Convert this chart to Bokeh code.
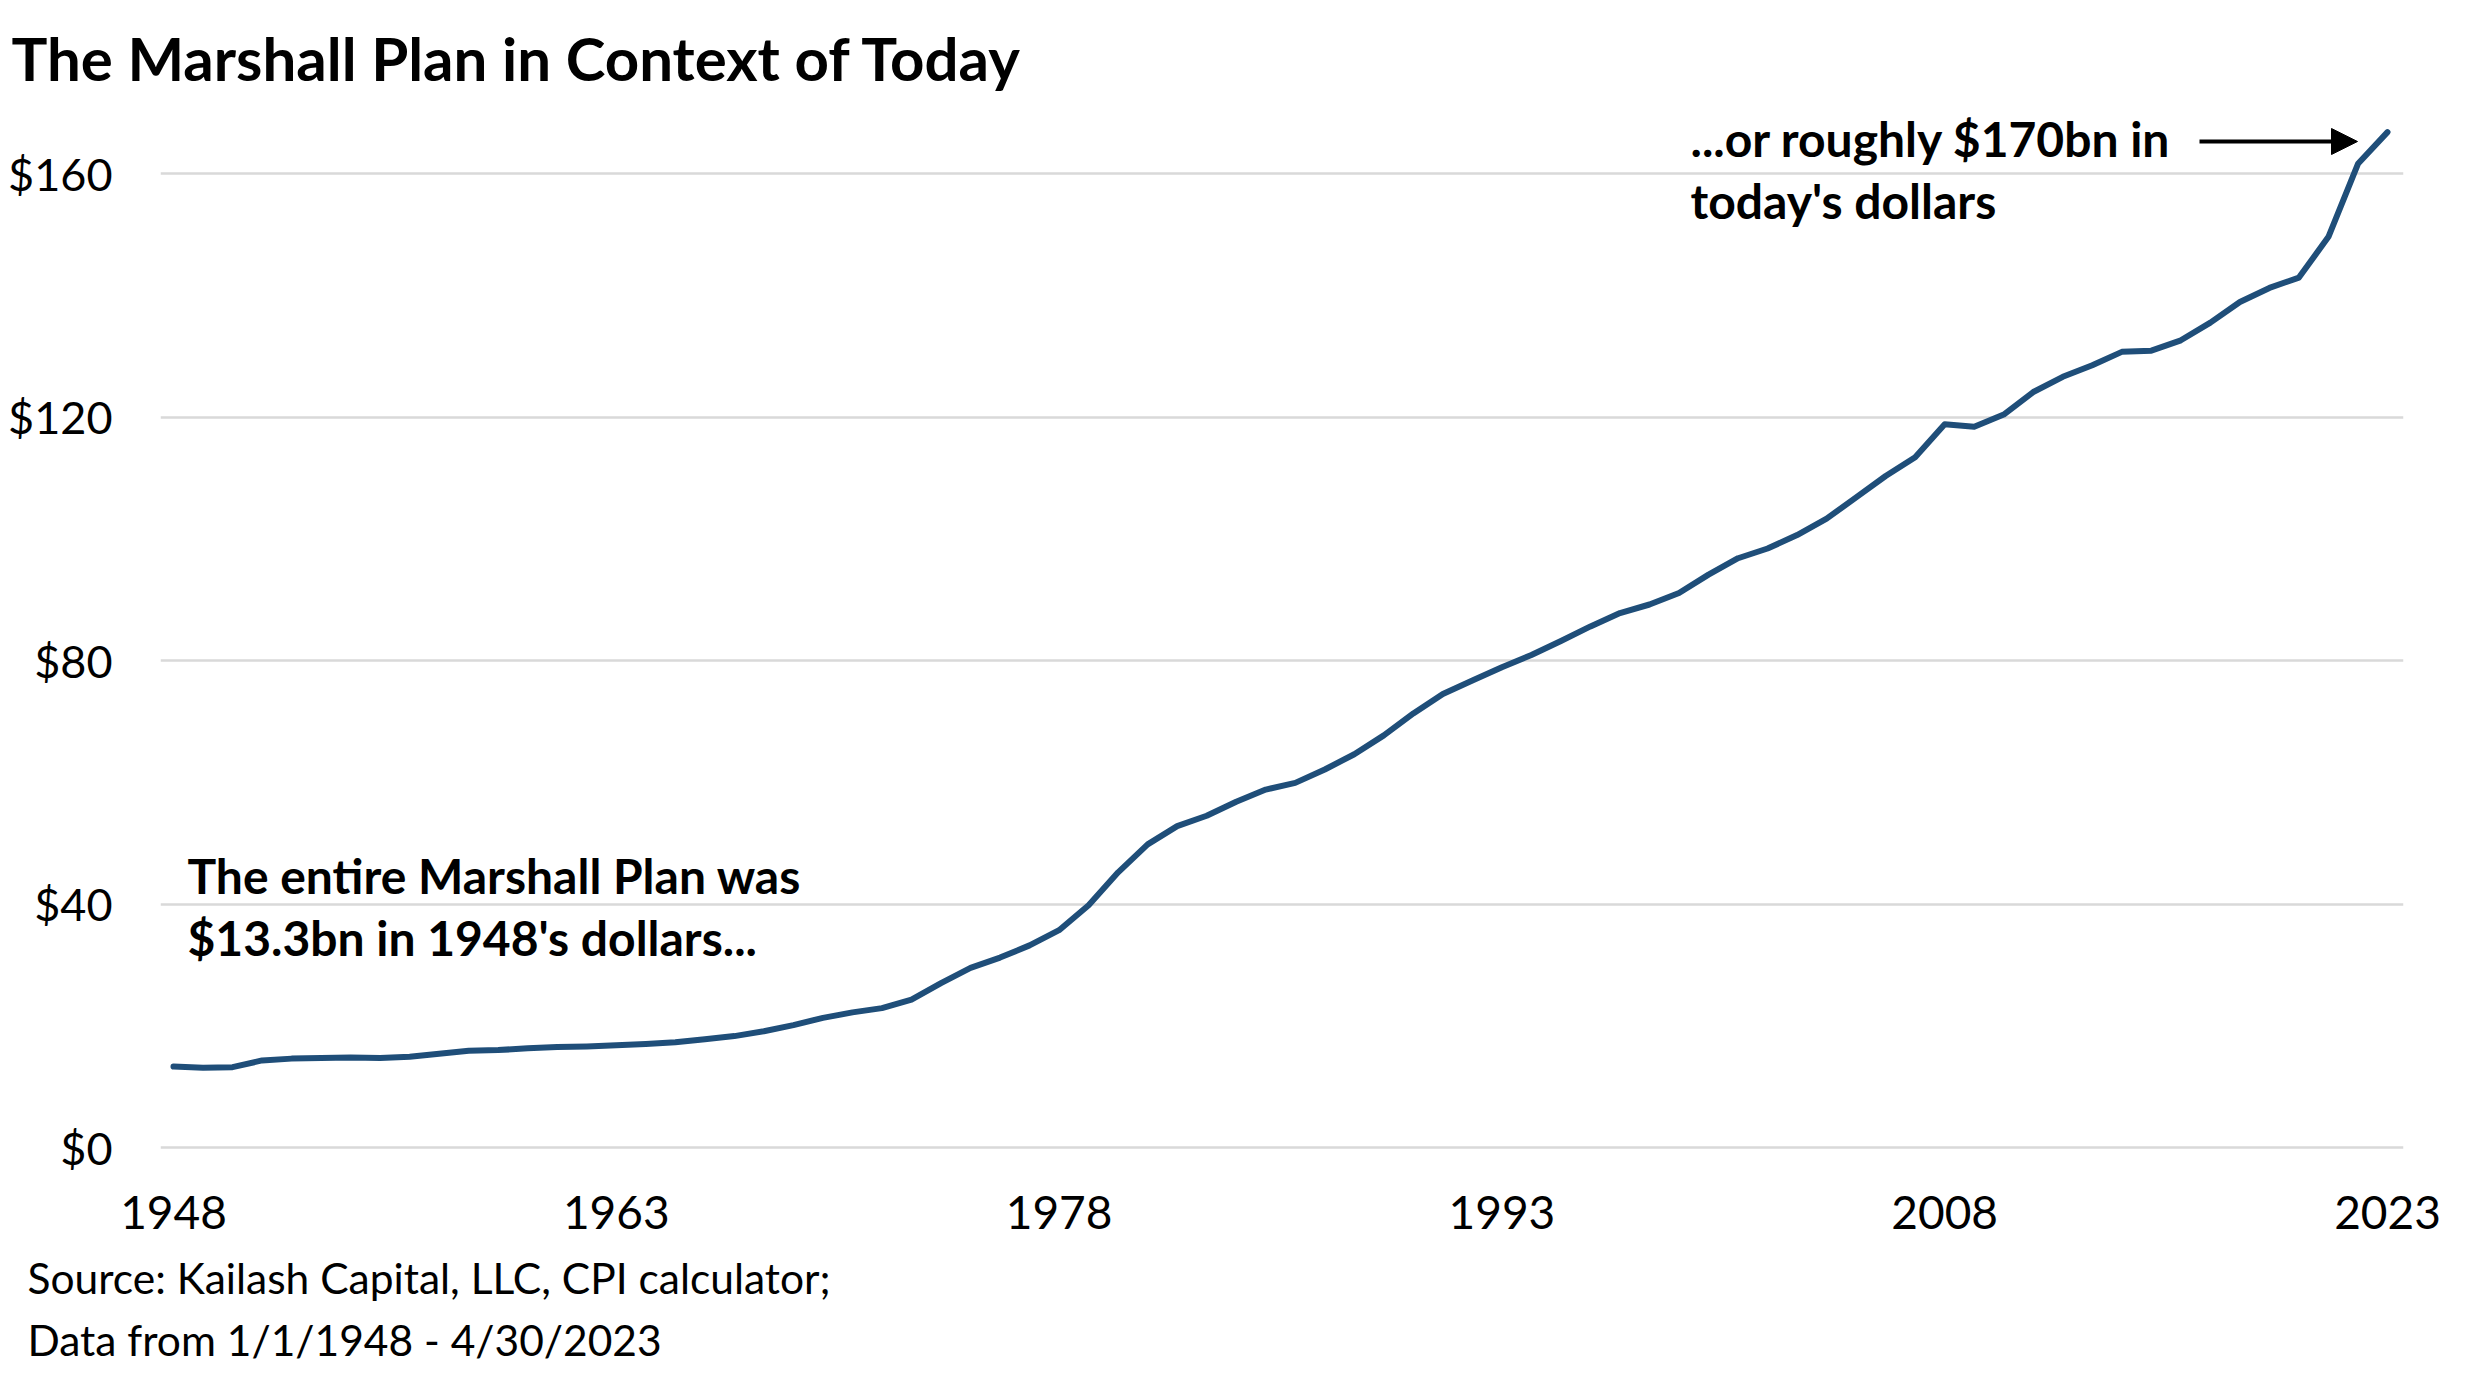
from bokeh.plotting import figure
from bokeh.models import (Range1d, FixedTicker, PrintfTickFormatter, Label, Arrow,
                          NormalHead, ColumnDataSource, Title)
from bokeh.embed import file_html
from bokeh.resources import INLINE

# ---------------- data ----------------
years = list(range(1948, 2024))
values = [13.3, 13.1, 13.2, 14.3, 14.6, 14.7, 14.8, 14.7, 14.9, 15.4,
          15.9, 16.0, 16.3, 16.5, 16.6, 16.8, 17.0, 17.3, 17.8, 18.3,
          19.1, 20.1, 21.3, 22.2, 22.9, 24.3, 27.0, 29.5, 31.2, 33.2,
          35.7, 39.8, 45.2, 49.8, 52.8, 54.5, 56.8, 58.8, 59.9, 62.1,
          64.6, 67.7, 71.3, 74.5, 76.7, 78.9, 80.9, 83.2, 85.6, 87.8,
          89.2, 91.1, 94.1, 96.8, 98.4, 100.6, 103.3, 106.8, 110.3, 113.4,
          118.8, 118.4, 120.4, 124.1, 126.6, 128.5, 130.7, 130.9, 132.6, 135.5,
          138.9, 141.2, 142.9, 149.6, 161.6, 166.8]
x_ticks = [1948, 1963, 1978, 1993, 2008, 2023]
y_ticks = [0, 40, 80, 120, 160]

title_text = "The Marshall Plan in Context of Today"
note_left = ["The entire Marshall Plan was", "$13.3bn in 1948's dollars..."]
note_right = ["...or roughly $170bn in", "today's dollars"]
source_lines = ["Source: Kailash Capital, LLC, CPI calculator;",
                "Data from 1/1/1948 - 4/30/2023"]

# ---------------- layout (page pixel positions) ----------------
W, H = 2459, 1370
X_1948, X_2023 = 181, 2395
Y_0, Y_160 = 1155, 181
PX_PER_YEAR = (X_2023 - X_1948) / 75.0
PX_PER_UNIT = (Y_0 - Y_160) / 160.0

def dx(px):
    return 1948 + (px - X_1948) / PX_PER_YEAR

def dy(py):
    return (Y_0 - py) / PX_PER_UNIT

FRAME_L, FRAME_R, FRAME_T, FRAME_B = 168, 2411, 112, 1158
x0, x1 = dx(FRAME_L), dx(FRAME_R)
y0, y1 = dy(FRAME_B), dy(FRAME_T)

p = figure(width=W, height=H, output_backend="svg", toolbar_location=None,
           x_range=Range1d(x0, x1), y_range=Range1d(y0, y1),
           min_border_left=FRAME_L - 8, min_border_right=W - (FRAME_R - 8),
           min_border_top=FRAME_T - 8, min_border_bottom=H - (FRAME_B - 8))
p.outline_line_color = None
p.background_fill_color = "white"
p.border_fill_color = "white"

src = ColumnDataSource(dict(x=years, y=values))
p.line("x", "y", source=src, line_color="#1F4E79", line_width=6, line_join="round",
       line_cap="round")

FONT = "Lato"
p.xaxis.ticker = FixedTicker(ticks=x_ticks)
p.yaxis.ticker = FixedTicker(ticks=y_ticks)
p.yaxis.formatter = PrintfTickFormatter(format="$%d")
for ax in (p.xaxis[0], p.yaxis[0]):
    ax.axis_line_color = None
    ax.major_tick_line_color = None
    ax.minor_tick_line_color = None
    ax.major_label_text_font = FONT
    ax.major_label_text_color = "black"
p.xaxis.major_label_text_font_size = "46px"
p.yaxis.major_label_text_font_size = "45px"
p.xaxis.major_label_standoff = 39
p.yaxis.major_label_standoff = 42

p.xgrid.grid_line_color = None
p.ygrid.grid_line_color = "#D9D9D9"
p.ygrid.grid_line_width = 2.5

# chart title (above the frame, shifted to the page's left edge)
p.add_layout(Title(text=title_text, align="left", vertical_align="middle",
                   offset=19 - FRAME_L,
                   text_font=FONT, text_font_size="60px", text_font_style="bold",
                   text_color="black", standoff=20), "above")

def add_text(txt, px, py, size, bold=False):
    p.add_layout(Label(x=dx(px), y=dy(py), text=txt, text_font=FONT,
                       text_font_size=size, text_font_style="bold" if bold else "normal",
                       text_color="black", text_baseline="middle", text_align="left"))

add_text(note_left[0], 195, 883, "48px", bold=True)
add_text(note_left[1], 195, 945, "48px", bold=True)
add_text(note_right[0], 1698, 146, "48px", bold=True)
add_text(note_right[1], 1698, 208, "48px", bold=True)

p.add_layout(Arrow(x_start=dx(2207), y_start=dy(149), x_end=dx(2365), y_end=dy(149),
                   line_color="black", line_width=4,
                   end=NormalHead(size=26, fill_color="black", line_color="black")))

# source lines below the x axis
for txt, so in zip(source_lines, (37, -20)):
    p.add_layout(Title(text=txt, align="left", offset=35 - FRAME_L,
                       text_font=FONT, text_font_size="42.5px", text_font_style="normal",
                       text_color="black", text_line_height=1.0, standoff=so), "below")

open("out.html", "w").write(file_html(p, INLINE))
